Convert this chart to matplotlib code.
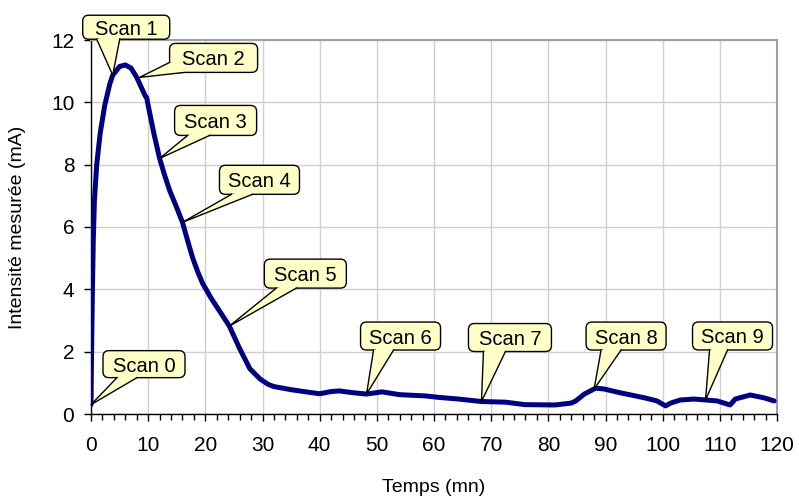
import matplotlib
matplotlib.use("Agg")
import matplotlib.pyplot as plt
import matplotlib.transforms as mtransforms
from matplotlib.patches import FancyBboxPatch, Polygon
from matplotlib.lines import Line2D
from matplotlib.ticker import MultipleLocator

plt.rcParams['font.family'] = ['Liberation Sans', 'DejaVu Sans']

# ---- data ----
time_mn = [0, 0.1, 0.25, 0.4, 0.6, 1.0, 1.6, 2.4, 3.3, 3.8, 5.0, 6.0, 7.0, 8.0, 9.0,
           9.5, 9.75, 10.0, 11.0, 12.0, 12.9, 13.8, 15.0, 16.0, 17.0, 17.8, 18.7,
           19.5, 21.0, 22.5, 24.2, 25.0, 26.0, 27.8, 29.6, 31.0, 32.0, 33.5, 35.0,
           38.0, 40.0, 42.0, 43.4, 46.0, 48.2, 50.9, 54.0, 58.5, 61.0, 64.3, 68.3,
           72.5, 75.9, 81.2, 84.0, 84.8, 86.3, 88.3, 89.8, 92.6, 96.8, 99.0, 100.5,
           101.4, 103.1, 105.5, 107.5, 109.5, 111.8, 112.7, 115.3, 117.7, 119.5]
intensity_mA = [0.3, 2.0, 4.0, 5.6, 6.85, 8.0, 9.0, 9.9, 10.6, 10.87, 11.15, 11.2,
                11.1, 10.8, 10.4, 10.2, 10.15, 9.9, 9.0, 8.2, 7.65, 7.15, 6.62, 6.15,
                5.5, 5.0, 4.55, 4.2, 3.72, 3.3, 2.82, 2.5, 2.1, 1.45, 1.12, 0.95,
                0.88, 0.83, 0.78, 0.7, 0.65, 0.72, 0.74, 0.68, 0.64, 0.71, 0.62,
                0.58, 0.53, 0.48, 0.4, 0.38, 0.3, 0.29, 0.35, 0.42, 0.64, 0.83, 0.8,
                0.68, 0.52, 0.42, 0.26, 0.35, 0.45, 0.48, 0.45, 0.42, 0.29, 0.48,
                0.61, 0.52, 0.42]

scan_labels = ["Scan 0", "Scan 1", "Scan 2", "Scan 3", "Scan 4",
               "Scan 5", "Scan 6", "Scan 7", "Scan 8", "Scan 9"]
scan_t = [0, 3.8, 8.5, 12.0, 16.0, 24.2, 48.2, 68.3, 88.0, 107.5]
scan_y = [0.3, 10.87, 10.8, 8.2, 6.15, 2.82, 0.64, 0.4, 0.8, 0.45]

x_ticks = list(range(0, 121, 10))
y_ticks = list(range(0, 13, 2))

# ---- callout layout (pixel offsets from the pointed point, y up) ----
callout_layout = [
    dict(box=(12, 94, 27, 54), b1=(26, 27), b2=(46, 27)),
    dict(box=(-30, 57, 36, 60), b1=(-16, 36), b2=(7, 36)),
    dict(box=(30, 118, 5, 34), b1=(30, 15), b2=(45, 5)),
    dict(box=(15, 97, 23, 53), b1=(28, 23), b2=(50, 23)),
    dict(box=(37, 117, 28, 57), b1=(49, 28), b2=(70, 28)),
    dict(box=(35, 117, 38, 67), b1=(47, 38), b2=(67, 38)),
    dict(box=(-6, 74, 44, 72), b1=(7, 44), b2=(27, 44)),
    dict(box=(-13, 70, 50, 78), b1=(2, 50), b2=(24, 50)),
    dict(box=(-8, 72, 39, 67), b1=(7, 39), b2=(27, 39)),
    dict(box=(-13, 67, 50, 78), b1=(4, 50), b2=(22, 50)),
]

W, H, DPI = 799, 500, 100
fig = plt.figure(figsize=(W / DPI, H / DPI), dpi=DPI)
ax = fig.add_axes([91 / W, 1 - 414 / H, (777 - 91) / W, (414 - 40) / H])

ax.plot(time_mn, intensity_mA, color='#000080', lw=3.6, solid_capstyle='round',
        solid_joinstyle='round', zorder=3)

ax.set_xlim(0, 120)
ax.set_ylim(0, 12)
ax.set_xticks(x_ticks)
ax.set_yticks(y_ticks)
ax.xaxis.set_minor_locator(MultipleLocator(2))
ax.grid(True, which='major', color='#d0d0d0', lw=1.0, zorder=0)
ax.set_axisbelow(True)

for s in ['left', 'bottom']:
    ax.spines[s].set_color('black')
    ax.spines[s].set_linewidth(1.0)
for s in ['top', 'right']:
    ax.spines[s].set_color('#a0a0a0')
    ax.spines[s].set_linewidth(1.5)

ax.tick_params(axis='x', which='major', direction='out', length=5, width=1,
               labelsize=15, pad=10.5)
ax.tick_params(axis='x', which='minor', direction='out', length=4, width=1)
ax.tick_params(axis='y', which='major', direction='out', length=5, width=1,
               labelsize=15, pad=7)

fig.text(434 / W, 1 - 487 / H, "Temps (mn)", ha='center', va='center', fontsize=14)
fig.text(18 / W, 1 - 227 / H, "Intensité mesurée (mA)", ha='center', va='center',
         rotation=90, fontsize=14)

fill_c = '#FFFFC8'
for lab, t, y, lay in zip(scan_labels, scan_t, scan_y, callout_layout):
    tr = mtransforms.ScaledTranslation(t, y, ax.transData)
    x0, x1, y0, y1 = lay['box']
    b1, b2 = lay['b1'], lay['b2']
    box = FancyBboxPatch((x0, y0), x1 - x0, y1 - y0,
                         boxstyle='round,pad=0,rounding_size=6',
                         fc=fill_c, ec='black', lw=1.0, transform=tr,
                         clip_on=False, zorder=6)
    fig.add_artist(box)
    cx, cy = (x0 + x1) / 2, (y0 + y1) / 2
    mx, my = (b1[0] + b2[0]) / 2, (b1[1] + b2[1]) / 2
    inner = (mx + (cx - mx) * 0.35, my + (cy - my) * 0.35)
    wedge = Polygon([b1, (0, 0), b2, inner], closed=True, fc=fill_c, ec='none',
                    transform=tr, clip_on=False, zorder=7)
    fig.add_artist(wedge)
    edge = Line2D([b1[0], 0, b2[0]], [b1[1], 0, b2[1]], color='black', lw=1.0,
                  transform=tr, clip_on=False, zorder=8)
    fig.add_artist(edge)
    fig.text(cx, cy, lab, transform=tr, ha='center', va='center_baseline',
             fontsize=14.5, zorder=9)

fig.savefig("out.png", dpi=DPI)
